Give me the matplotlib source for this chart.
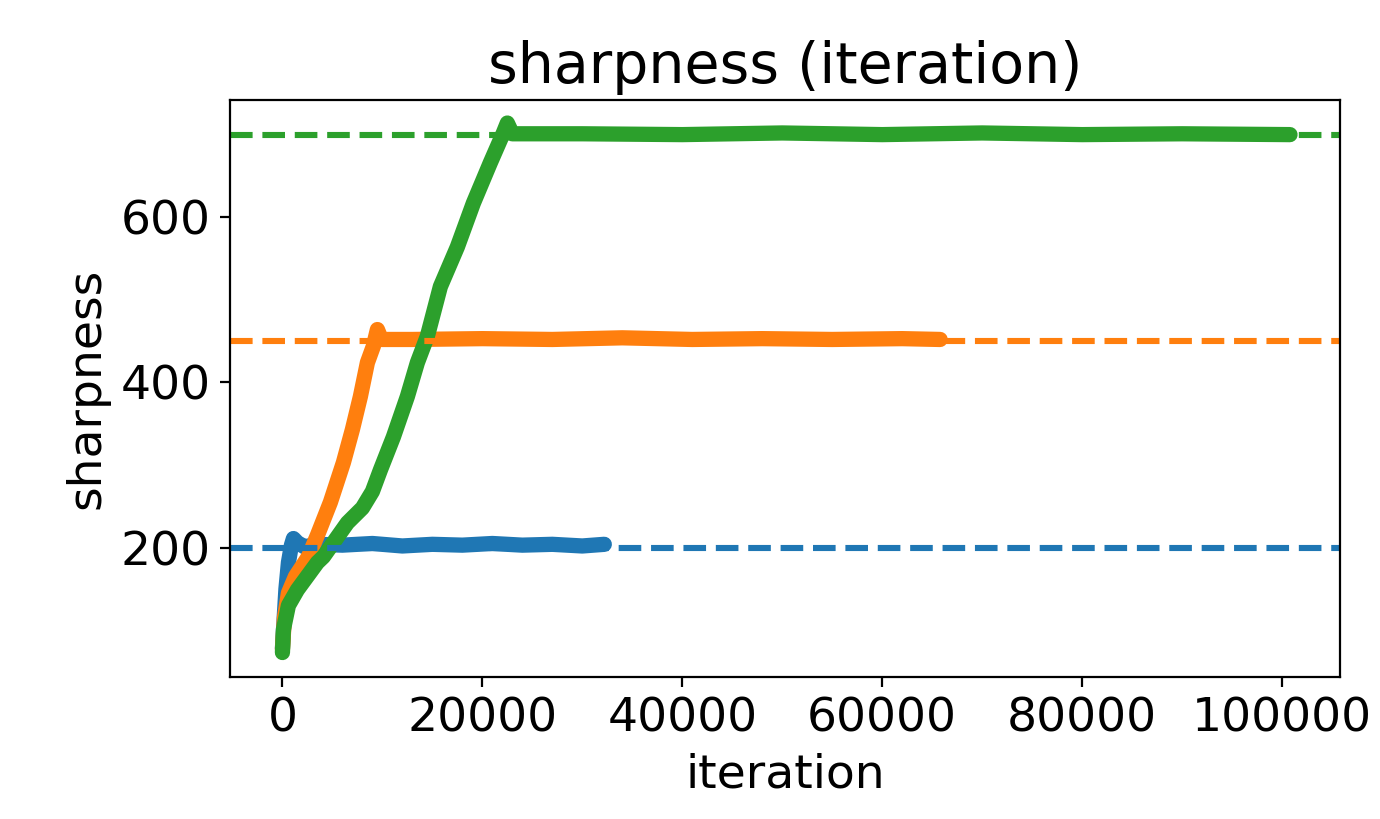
import matplotlib.pyplot as plt

plt.rcParams['font.size'] = 17

# values
blue_iter = [0, 150, 350, 600, 900, 1100, 1500, 2200, 3500, 6000, 9000, 12000, 15000,
             18000, 21000, 24000, 27000, 30000, 32200]
blue_sharp = [78, 110, 150, 182, 203, 211, 206, 201, 204, 203, 205, 202, 204,
              203, 205, 203, 204, 202, 204]

orange_iter = [0, 200, 600, 1300, 2600, 3500, 4800, 6100, 7000, 7800, 8500, 9100,
               9500, 9900, 13000, 20000, 27000, 34000, 41000, 48000, 55000, 62000, 65800]
orange_sharp = [77, 115, 145, 165, 189, 215, 255, 303, 343, 383, 424, 444,
                464, 452, 452, 453, 452, 454, 452, 453, 452, 453, 452]

green_iter = [0, 100, 600, 1500, 3500, 4100, 6500, 8000, 9000, 9800, 11100, 12500, 13500,
              14500, 15800, 17500, 19100, 20800, 22100, 22500, 23000, 30000, 40000,
              50000, 60000, 70000, 80000, 90000, 100800]
green_sharp = [73, 101, 130, 149, 182, 189, 230, 248, 268, 294, 334, 383, 424,
               456, 516, 564, 617, 666, 702, 714, 701, 701, 700, 702, 700, 702, 700,
               701, 700]

# 2 / learning rate thresholds
thresholds = [200, 450, 700]
colors = ['tab:blue', 'tab:orange', 'tab:green']

fig = plt.figure(figsize=(6.9, 4.095), dpi=200)
ax = fig.add_axes([0.167, 0.173, 0.804, 0.705])

ax.plot(blue_iter, blue_sharp, color=colors[0], linewidth=5.5, solid_capstyle='round')
ax.plot(orange_iter, orange_sharp, color=colors[1], linewidth=5.5, solid_capstyle='round')
ax.plot(green_iter, green_sharp, color=colors[2], linewidth=5.5, solid_capstyle='round')

for t, c in zip(thresholds, colors):
    ax.axhline(t, color=c, linestyle='--', linewidth=2.2)

ax.set_title('sharpness (iteration)', fontsize=20.5)
ax.set_xlabel('iteration')
ax.set_ylabel('sharpness')
ax.set_xticks([0, 20000, 40000, 60000, 80000, 100000])
ax.set_yticks([200, 400, 600])
ax.set_xlim(-5200, 105800)
ax.set_ylim(43, 742)

fig.savefig('out.png', dpi=200)
